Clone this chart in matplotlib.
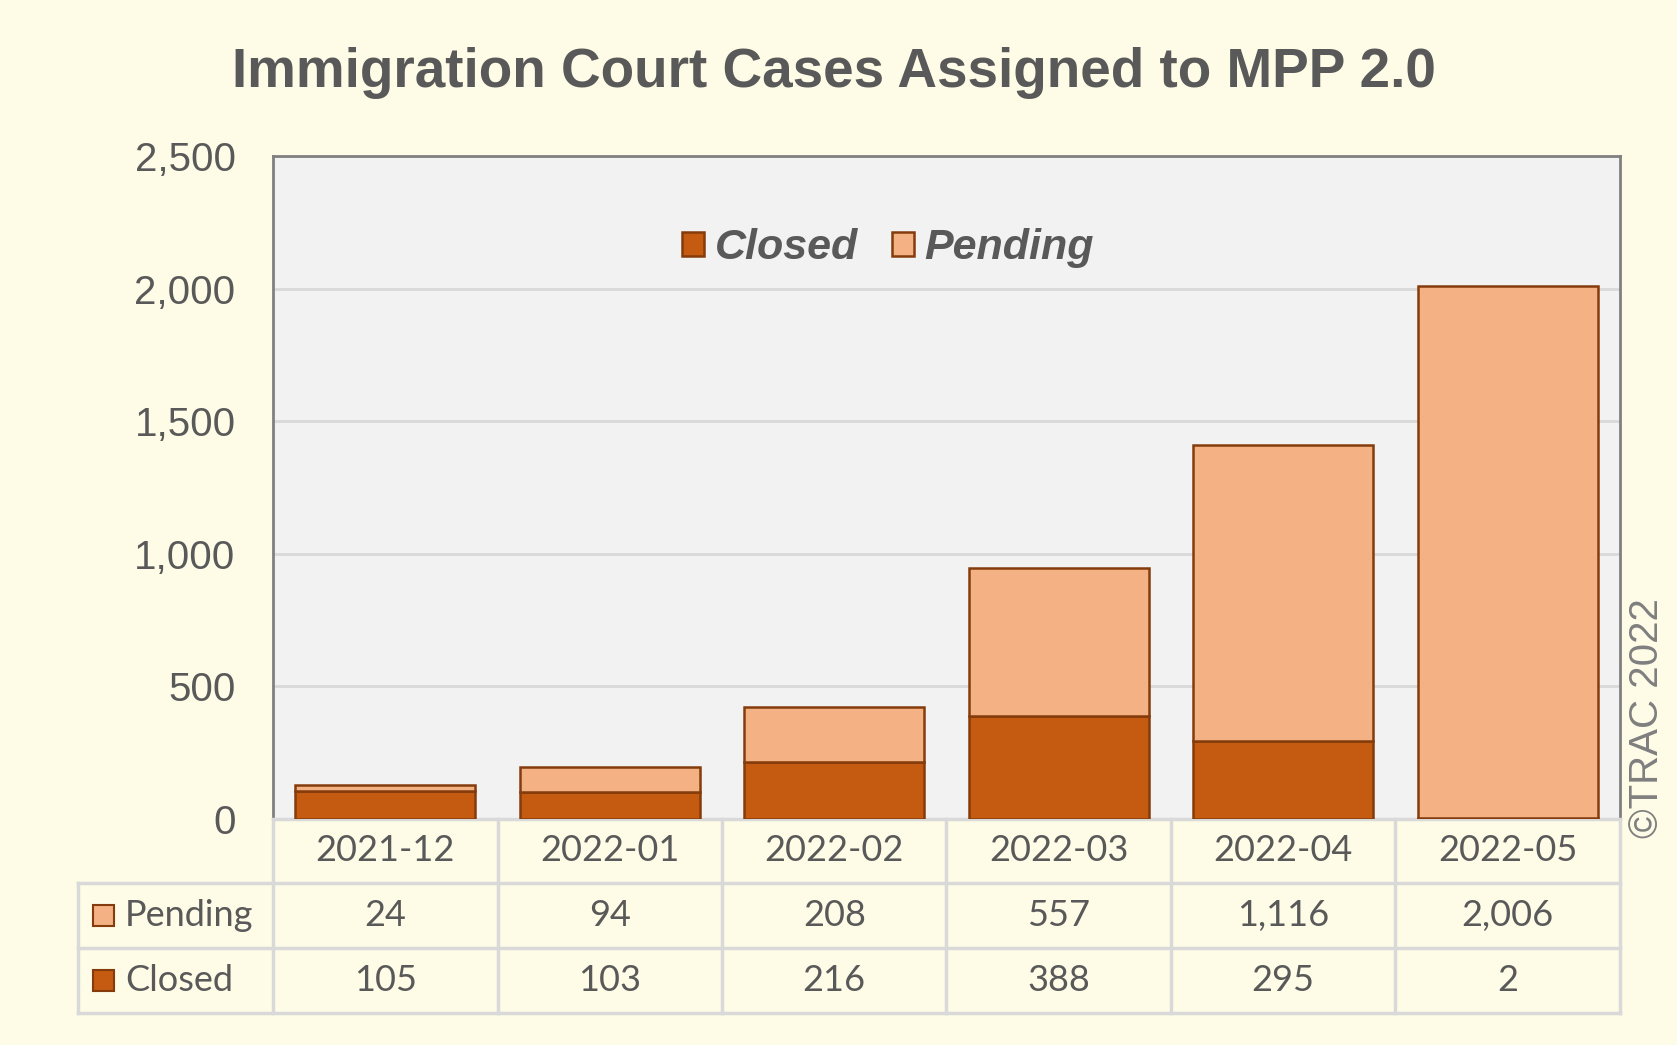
import numpy as np
import matplotlib.pyplot as plt
import matplotlib.transforms as mtransforms
from matplotlib.patches import Rectangle

# Data
months = ['2021-12', '2022-01', '2022-02', '2022-03', '2022-04', '2022-05']
closed = [105, 103, 216, 388, 295, 2]
pending = [24, 94, 208, 557, 1116, 2006]
yticks = [0, 500, 1000, 1500, 2000, 2500]

# Colors
BG = '#FEFBE6'
PLOT_BG = '#F2F2F2'
CLOSED = '#C55A11'
PENDING = '#F4B183'
EDGE = '#843C0C'
TEXT = '#595959'
GRID = '#D9D9D9'

fig = plt.figure(figsize=(16.77, 10.45), dpi=100, facecolor=BG)
ax = fig.add_axes([0.1628, 0.2163, 0.8032, 0.6344])
ax.set_facecolor(PLOT_BG)

x = np.arange(len(months))
ax.bar(x, closed, 0.8, color=CLOSED, edgecolor=EDGE, linewidth=1.8, zorder=3, label='Closed')
ax.bar(x, pending, 0.8, bottom=closed, color=PENDING, edgecolor=EDGE, linewidth=1.8, zorder=3, label='Pending')

ax.set_xlim(-0.5, len(months) - 0.5)
ax.set_ylim(0, 2500)
ax.set_yticks(yticks)
ax.set_yticklabels([f'{v:,}' for v in yticks], fontsize=29, color=TEXT, family='Liberation Sans')
ax.tick_params(axis='y', length=0, pad=27)
ax.set_xticks([])
ax.grid(axis='y', color=GRID, lw=2, zorder=0)

for s in ['left', 'top', 'right']:
    ax.spines[s].set_color('#808080')
    ax.spines[s].set_linewidth(2)
ax.spines['bottom'].set_color(GRID)
ax.spines['bottom'].set_linewidth(2.5)

# Legend
leg = ax.legend(loc='center', bbox_to_anchor=(0.4566, 0.861), ncol=2, frameon=False,
                prop={'family': 'Liberation Sans', 'weight': 'bold', 'style': 'italic', 'size': 31},
                labelcolor=TEXT, handlelength=0.5, handleheight=0.5, handletextpad=0.25,
                columnspacing=0.8)

# Title
fig.text(834 / 1677, 1 - 73 / 1045, 'Immigration Court Cases Assigned to MPP 2.0',
         ha='center', va='center', fontsize=39.5, weight='bold', color=TEXT, family='Liberation Sans')

# Copyright
fig.text(1647 / 1677, 1 - 718 / 1045, '\u00a9TRAC 2022', rotation=90, ha='center', va='center',
         fontsize=29, color='#7F7F7F', family='Liberation Sans')

# Data table under the axis
bt = mtransforms.blended_transform_factory(ax.transData, ax.transAxes)
row_edges = [0, -0.0965, -0.1946, -0.2926]
row_mid = [-0.0483, -0.1455, -0.2436]
label_left = -0.1448
tfont = dict(family='Lato', fontsize=26, color=TEXT)

for b in np.arange(-0.5, len(months)):
    ax.plot([b, b], [row_edges[0], row_edges[-1]], transform=bt, color=GRID, lw=2.5, clip_on=False, zorder=1)
for ye in row_edges[1:]:
    ax.plot([label_left, 1], [ye, ye], transform=ax.transAxes, color=GRID, lw=2.5, clip_on=False)
ax.plot([label_left, label_left], [row_edges[1], row_edges[-1]], transform=ax.transAxes,
        color=GRID, lw=2.5, clip_on=False)

for i, m in enumerate(months):
    ax.text(i, row_mid[0], m, transform=bt, ha='center', va='center', **tfont)
    ax.text(i, row_mid[1], f'{pending[i]:,}', transform=bt, ha='center', va='center', **tfont)
    ax.text(i, row_mid[2], f'{closed[i]:,}', transform=bt, ha='center', va='center', **tfont)

for ym, name, col in [(row_mid[1], 'Pending', PENDING), (row_mid[2], 'Closed', CLOSED)]:
    ax.add_patch(Rectangle((-0.1336, ym - 0.0158), 0.0156, 0.0317, transform=ax.transAxes,
                           facecolor=col, edgecolor=EDGE, lw=1.5, clip_on=False))
    ax.text(-0.1099, ym, name, transform=ax.transAxes, ha='left', va='center', **tfont)

fig.savefig('out.png', dpi=100, facecolor=BG)
